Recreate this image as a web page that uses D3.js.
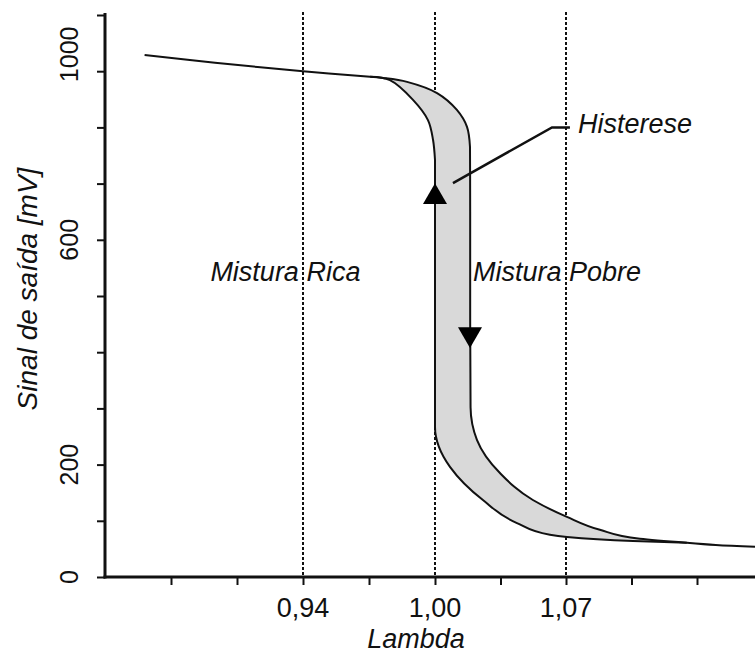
<!DOCTYPE html>
<html>
<head>
<meta charset="utf-8">
<script src="https://cdn.jsdelivr.net/npm/d3@7"></script>
<style>
  body { margin: 0; background: #fff; }
  text { font-family: "Liberation Sans", Arial, sans-serif; fill: #111; }
  .label { font-style: italic; }
</style>
</head>
<body>
<svg></svg>
<script>
// Lambda values where the axis has ticks, and the three labelled ones
const xTickValues = [0.88, 0.91, 0.94, 0.97, 1.0, 1.035, 1.07, 1.105, 1.14];
const xLabelValues = [0.94, 1.0, 1.07];
const xLabelText = ["0,94", "1,00", "1,07"];

// mV ticks every 100, labels as printed on the chart
const yTickValues = [0, 100, 200, 300, 400, 500, 600, 700, 800, 900, 1000];
const yLabelValues = [0, 200, 600, 930];
const yLabelText = ["0", "200", "600", "1000"];

// Shared rich branch, [lambda, mV]
const richLine = [[0.868, 929], [0.9, 915], [0.94, 900], [0.9705, 890]];

// Outer branch (lean direction, arrow down)
const outerCurve = [
  [0.9705, 890], [0.9764, 888], [0.9873, 881], [1.0011, 861], [1.0117, 831],
  [1.0171, 801], [1.0187, 765], [1.0188, 650], [1.0188, 450], [1.019, 302],
  [1.0224, 244], [1.0347, 185], [1.0523, 137], [1.0705, 107], [1.0881, 84],
  [1.1095, 68], [1.1346, 61]
];

// Inner branch (rich direction, arrow up)
const innerCurve = [
  [0.9705, 890], [0.9795, 884], [0.99, 849], [0.9968, 813], [0.9991, 778],
  [1.0, 742], [1.0, 600], [1.0, 400], [1.0, 267], [1.008, 196], [1.0256, 137],
  [1.0438, 96], [1.0614, 75], [1.0705, 71], [1.1058, 64], [1.1346, 61]
];

// index where each branch turns vertical
const outerBend = 6, innerBend = 5;

// Lean tail after both branches meet
const leanTail = [[1.1346, 61], [1.15, 57], [1.171, 54]];

const dashedLines = [0.94, 1.0, 1.07];

const arrows = [
  { lambda: 1.0, mv: 676, rotate: 0 },
  { lambda: 1.0187, mv: 432, rotate: 180 }
];

const leader = [[1.0096, 701], [1.0625, 800], [1.0721, 800]];

const notes = [
  { text: "Mistura Rica", lambda: 0.932, mv: 527, anchor: "middle" },
  { text: "Mistura Pobre", lambda: 1.0203, mv: 527, anchor: "start" },
  { text: "Histerese", lambda: 1.0764, mv: 790, anchor: "start" }
];

const width = 755, height = 655;
const svg = d3.select("svg").attr("width", width).attr("height", height);

const axisLeftX = 105, axisBottomY = 577;

// x axis is not even in lambda: 0,94 -> 1,00 and 1,00 -> 1,07 have the same length
const x = d3.scaleLinear().domain([0.94, 1.0, 1.07]).range([303, 435, 566]);
const y = d3.scaleLinear().domain([0, 1000]).range([axisBottomY, 15]);

// Dashed vertical guides
svg.append("g")
  .selectAll("line")
  .data(dashedLines)
  .join("line")
  .attr("x1", d => x(d)).attr("x2", d => x(d))
  .attr("y1", 12).attr("y2", axisBottomY)
  .attr("stroke", "#111")
  .attr("stroke-width", 2)
  .attr("stroke-dasharray", "3,2");

const line = d3.line()
  .x(d => x(d[0]))
  .y(d => y(d[1]))
  .curve(d3.curveCatmullRom.alpha(0.5));

// Below the bend the branches fall steadily in mV, so interpolate lambda
// as a monotone function of mV (keeps the vertical parts straight)
const monoY = d3.line()
  .x(d => x(d[0]))
  .y(d => y(d[1]))
  .curve(d3.curveMonotoneY);

const dropMove = d => d.replace(/^M[^A-Za-z]*/, "");

function branchPath(pts, bend, reversed) {
  const top = pts.slice(0, bend + 1);
  const rest = pts.slice(bend);
  if (!reversed) return line(top) + dropMove(monoY(rest));
  return monoY(rest.slice().reverse()) + dropMove(line(top.slice().reverse()));
}

// Hysteresis band fill
const fillPath = branchPath(outerCurve, outerBend, false) +
  "L" + branchPath(innerCurve, innerBend, true).slice(1) + "Z";
svg.append("path")
  .attr("d", fillPath)
  .attr("fill", "#d9d9d9")
  .attr("stroke", "none");

// Curves
[line(richLine), branchPath(outerCurve, outerBend, false),
 branchPath(innerCurve, innerBend, false), line(leanTail)].forEach(d => {
  svg.append("path")
    .attr("d", d)
    .attr("fill", "none")
    .attr("stroke", "#111")
    .attr("stroke-width", 2);
});

// Direction arrows
svg.selectAll("path.arrow")
  .data(arrows)
  .join("path")
  .attr("class", "arrow")
  .attr("d", d3.symbol(d3.symbolTriangle, 250))
  .attr("transform", d => `translate(${x(d.lambda)},${y(d.mv)}) rotate(${d.rotate})`)
  .attr("fill", "#000");

// Leader line to the "Histerese" note
svg.append("path")
  .attr("d", d3.line().x(d => x(d[0])).y(d => y(d[1]))(leader))
  .attr("fill", "none")
  .attr("stroke", "#111")
  .attr("stroke-width", 2.5);

// Axes
const xAxis = svg.append("g")
  .attr("transform", `translate(0,${axisBottomY})`)
  .call(d3.axisBottom(x).tickValues(xTickValues).tickFormat("").tickSize(8).tickSizeOuter(0));
xAxis.select(".domain").remove();
xAxis.selectAll(".tick line").attr("stroke", "#111").attr("stroke-width", 2);

const yAxis = svg.append("g")
  .attr("transform", `translate(${axisLeftX},0)`)
  .call(d3.axisLeft(y).tickValues(yTickValues).tickFormat("").tickSize(8).tickSizeOuter(0));
yAxis.select(".domain").remove();
yAxis.selectAll(".tick line").attr("stroke", "#111").attr("stroke-width", 2);

svg.append("line")
  .attr("x1", axisLeftX - 1.5).attr("x2", width)
  .attr("y1", axisBottomY).attr("y2", axisBottomY)
  .attr("stroke", "#111").attr("stroke-width", 3);
svg.append("line")
  .attr("x1", axisLeftX).attr("x2", axisLeftX)
  .attr("y1", 13).attr("y2", axisBottomY + 1.5)
  .attr("stroke", "#111").attr("stroke-width", 3);

// Tick labels
svg.append("g")
  .selectAll("text")
  .data(xLabelValues)
  .join("text")
  .attr("x", d => x(d))
  .attr("y", axisBottomY + 40)
  .attr("text-anchor", "middle")
  .style("font-size", "27px")
  .text((d, i) => xLabelText[i]);

svg.append("g")
  .selectAll("text")
  .data(yLabelValues)
  .join("text")
  .attr("transform", d => `translate(78,${y(d)}) rotate(-90)`)
  .attr("text-anchor", "middle")
  .style("font-size", "25px")
  .text((d, i) => yLabelText[i]);

// Axis titles
svg.append("text")
  .attr("class", "label")
  .attr("x", 416)
  .attr("y", 648)
  .attr("text-anchor", "middle")
  .style("font-size", "27px")
  .text("Lambda");

svg.append("text")
  .attr("class", "label")
  .attr("transform", "translate(37,289) rotate(-90)")
  .attr("text-anchor", "middle")
  .style("font-size", "28px")
  .text("Sinal de saída [mV]");

// Region notes
svg.append("g")
  .selectAll("text")
  .data(notes)
  .join("text")
  .attr("class", "label")
  .attr("x", d => x(d.lambda))
  .attr("y", d => y(d.mv))
  .attr("text-anchor", d => d.anchor)
  .style("font-size", "27px")
  .text(d => d.text);
</script>
</body>
</html>
